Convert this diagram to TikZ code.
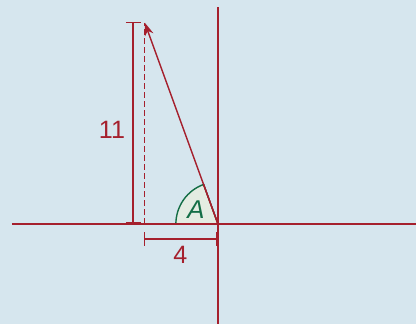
\documentclass[tikz,border=0pt]{standalone}
\usepackage{fontspec}
\setmainfont{Liberation Sans}
\usetikzlibrary{arrows.meta}
\definecolor{bgblue}{RGB}{214,230,238}
\definecolor{vecred}{RGB}{165,32,45}
\definecolor{anggreen}{RGB}{20,110,70}
\definecolor{angfill}{RGB}{228,236,226}
\begin{document}
\begin{tikzpicture}[scale=0.5, line width=1.1pt]
        % Background and fixed margins
        \fill[bgblue] (-11.91, -5.46) rectangle (10.82, 12.24);
        \useasboundingbox (-11.91, -5.46) rectangle (10.82, 12.24);

        % Angle between the vector and the negative x-axis
        \coordinate (O) at (0, 0);
        \coordinate (P) at (-4, 11);
        \filldraw[fill=angfill, draw=anggreen] 
            (O) -- (180:2.3) arc[start angle=180, end angle=109.98, radius=2.3] -- cycle;
        \draw[vecred] (O) -- (109.98:2.3);
        \node[anggreen, font=\fontsize{20}{22}\selectfont\itshape] (lblA) at (-1.2, 0.8) {A};

        % Axes
        \coordinate (Xl) at (-11.26, 0);
        \coordinate (Xr) at (10.82, 0);
        \coordinate (Yt) at (0, 11.86);
        \coordinate (Yb) at (0, -5.46);
        \draw[vecred] (Xl) -- (Xr);
        \draw[vecred] (Yb) -- (Yt);

        % The vector and its vertical component
        \coordinate (Q) at (-4, 0);
        \draw[vecred, dash pattern=on 4.7pt off 2.3pt] (Q) -- (P);
        \draw[vecred, -{Stealth[length=10pt, width=7pt]}] (O) -- (P);

        % Dimension for the height
        \coordinate (Ht) at (-4.64, 11);
        \coordinate (Hb) at (-4.64, 0.05);
        \draw[vecred] (Ht) -- (Hb);
        \draw[vecred] (-5.03, 11) -- (-4.21, 11);
        \draw[vecred] (-5.03, 0.05) -- (-4.21, 0.05);
        \node[vecred, font=\fontsize{19.5}{22}\selectfont] (lblH) at (-5.79, 5.14) {11};

        % Dimension for the width
        \coordinate (Wl) at (-4, -0.82);
        \coordinate (Wr) at (-0.05, -0.82);
        \draw[vecred] (Wl) -- (Wr);
        \draw[vecred] (-4, -0.44) -- (-4, -1.2);
        \draw[vecred] (-0.05, -0.44) -- (-0.05, -1.2);
        \node[vecred, font=\fontsize{19.5}{22}\selectfont] (lblW) at (-2.05, -1.69) {4};
    \end{tikzpicture}
\end{document}
